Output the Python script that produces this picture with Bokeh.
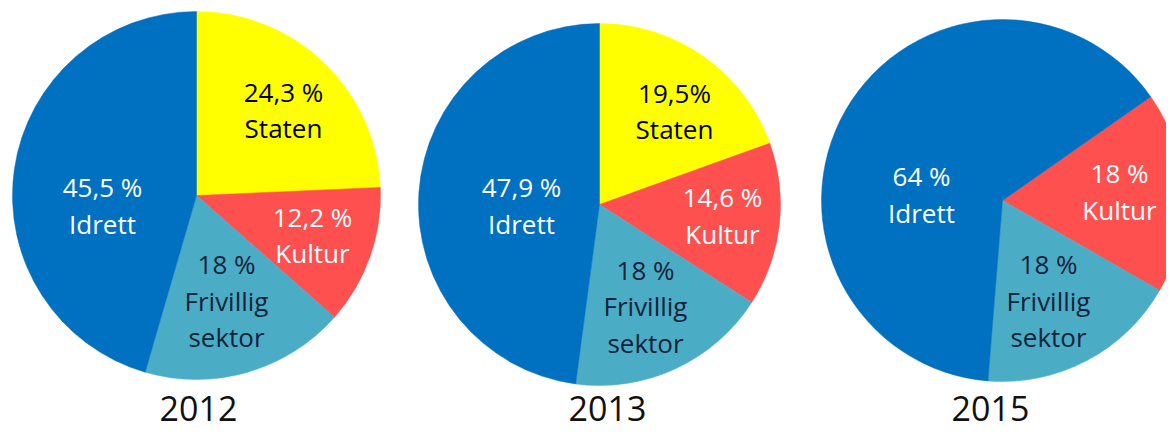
import math
from bokeh.plotting import figure
from bokeh.models import Range1d, ColumnDataSource
from bokeh.core.properties import value
from bokeh.embed import file_html
from bokeh.resources import INLINE

# ---------------- data ----------------
years = ["2012", "2013", "2015"]
categories = ["Staten", "Kultur", "Frivillig sektor", "Idrett"]
share_2012 = [24.3, 12.2, 18.0, 45.5]
share_2013 = [19.5, 14.6, 18.0, 47.9]
share_2015 = [0.0, 18.0, 18.0, 64.0]
pct_labels_2012 = ["24,3 %", "12,2 %", "18 %", "45,5 %"]
pct_labels_2013 = ["19,5%", "14,6 %", "18 %", "47,9 %"]
pct_labels_2015 = ["", "18 %", "18 %", "64 %"]

shares = [share_2012, share_2013, share_2015]
pct_labels = [pct_labels_2012, pct_labels_2013, pct_labels_2015]

# ---------------- styling ----------------
W, H = 1166, 431
slice_colors = ["#FFFF00", "#FF5050", "#4BACC6", "#0070C0"]
text_colors = ["#000000", "#FFFFFF", "#14233A", "#FFFFFF"]
pie_centers = [(196, 195), (599, 204), (1002, 200)]   # picture pixels
pie_radius = [184, 181, 181]
start_deg = [0, 0, 55]                                 # clockwise from 12 o'clock
label_offsets = [
    [(87, -85), (116, 40), (30, 106), (-94, 10.5)],
    [(75, -93), (123, 11.5), (46, 102.5), (-78, 1.5)],
    [(0, 0), (117, -8.5), (46, 101), (-81, -5.5)],
]
year_x = [198, 607, 990]
year_baseline = 421
TEXT_DY = -10          # renderer places alphabetic baselines lower (26px text)
YEAR_DY = -13          # same effect for the 34px year labels
LINE = 36.5
CAP = 18.6
FONT = "Open Sans"


def sy(y):
    return H - y


p = figure(width=W, height=H, output_backend="svg", toolbar_location=None,
           x_range=Range1d(0, W), y_range=Range1d(0, H),
           min_border=0, outline_line_color=None, background_fill_color="white",
           border_fill_color="white")
p.axis.visible = False
p.grid.visible = False

wx, wy, wr, ws, we, wc = [], [], [], [], [], []
tx, ty, tt, tc = [], [], [], []
for i, yr in enumerate(years):
    cx, cy = pie_centers[i]
    a = start_deg[i]
    for j, cat in enumerate(categories):
        v = shares[i][j]
        if v <= 0:
            continue
        a2 = a + v / 100.0 * 360.0
        wx.append(cx); wy.append(sy(cy)); wr.append(pie_radius[i])
        ws.append(math.radians(90 - a2)); we.append(math.radians(90 - a)); wc.append(slice_colors[j])
        a = a2
        lines = [pct_labels[i][j]] + cat.split(" ")
        n = len(lines)
        dx, dy = label_offsets[i][j]
        mid = cy + dy
        b1 = mid - ((n - 1) * LINE - CAP) / 2 + TEXT_DY
        for k, ln in enumerate(lines):
            tx.append(cx + dx); ty.append(sy(b1 + k * LINE)); tt.append(ln)
            tc.append(text_colors[j])

wsrc = ColumnDataSource(dict(x=wx, y=wy, r=wr, s=ws, e=we, c=wc))
p.wedge(x="x", y="y", radius="r", start_angle="s", end_angle="e",
        radius_units="screen", fill_color="c", line_color="c", line_width=0.5, source=wsrc)

tsrc = ColumnDataSource(dict(x=tx, y=ty, t=tt, c=tc))
p.text(x="x", y="y", text="t", text_color="c", text_font=value(FONT),
       text_font_size=value("26px"), text_align="center", text_baseline="alphabetic",
       source=tsrc)

p.text(x=year_x, y=[sy(year_baseline + YEAR_DY)] * 3, text=years, text_color="#111111",
       text_font=value(FONT), text_font_size=value("34px"), text_align="center",
       text_baseline="alphabetic")

open("out.html", "w").write(file_html(p, INLINE))
